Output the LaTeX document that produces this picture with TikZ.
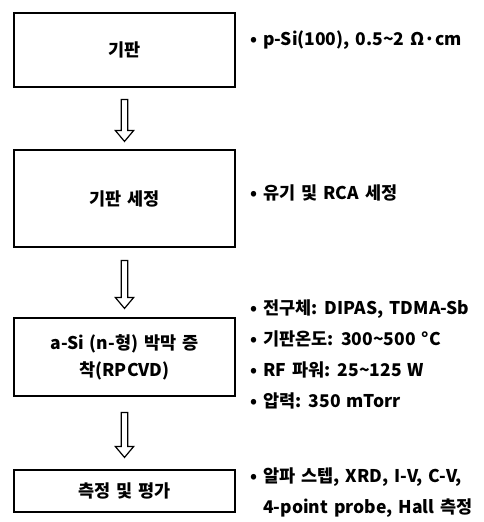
\documentclass[tikz,border=0pt]{standalone}
\usepackage{fontspec}
\setmainfont{Noto Sans CJK KR}[WordSpace=1.5]
\usetikzlibrary{shapes.arrows}

\begin{document}
\begin{tikzpicture}[
        x=1pt, y=-1pt,
        box/.style={
            draw=black,
            line width=2pt,
            minimum width=221pt,
            align=center,
            inner sep=0pt,
            font=\bfseries\fontsize{17.5}{27}\selectfont
        },
        note/.style={
            anchor=west,
            align=left,
            inner sep=0pt,
            font=\bfseries\fontsize{17.5}{31}\selectfont
        },
        flow/.style={
            single arrow,
            draw=black,
            line width=1.2pt,
            shape border rotate=270,
            inner sep=2.6pt,
            single arrow head extend=6pt,
            single arrow tip angle=80,
            minimum height=#1
        },
        flow/.default=42pt
    ]
    \useasboundingbox (0,0) rectangle (483,522);

    % 공정 단계
    \node[box, minimum height=74pt] (substrate) at (124.5,50) {기판};
    \node[box, minimum height=97pt] (cleaning) at (124.5,198.5) {기판 세정};
    \node[box, minimum height=78pt] (deposition) at (124.5,357)
        {a-Si (n-형) 박막 증\\착(RPCVD)};
    \node[box, minimum height=42pt] (measure) at (124.5,491) {측정 및 평가};

    \path (substrate.south) -- (cleaning.north) node[midway, flow=42pt] (a1) {};
    \path (cleaning.south) -- (deposition.north) node[midway, flow=48pt] (a2) {};
    \path (deposition.south) -- (measure.north) node[midway, flow=45pt] (a3) {};

    % 조건
    \node[note] (substrateinfo) at (250,40)
        {• p-Si(100), 0.5\textasciitilde 2 Ω·cm};
    \node[note] (cleaninginfo) at (250,193) {• 유기 및 RCA 세정};
    \node[note] (depositioninfo) at (250,354)
        {• 전구체: DIPAS, TDMA-Sb\\
         • 기판온도: 300\textasciitilde 500 °C\\
         • RF 파워: 25\textasciitilde 125 W\\
         • 압력: 350 mTorr};
    \node[note] (measureinfo) at (250,493)
        {• 알파 스텝, XRD, I-V, C-V,\\
         \hphantom{• }4-point probe, Hall 측정};

\end{tikzpicture}
\end{document}
